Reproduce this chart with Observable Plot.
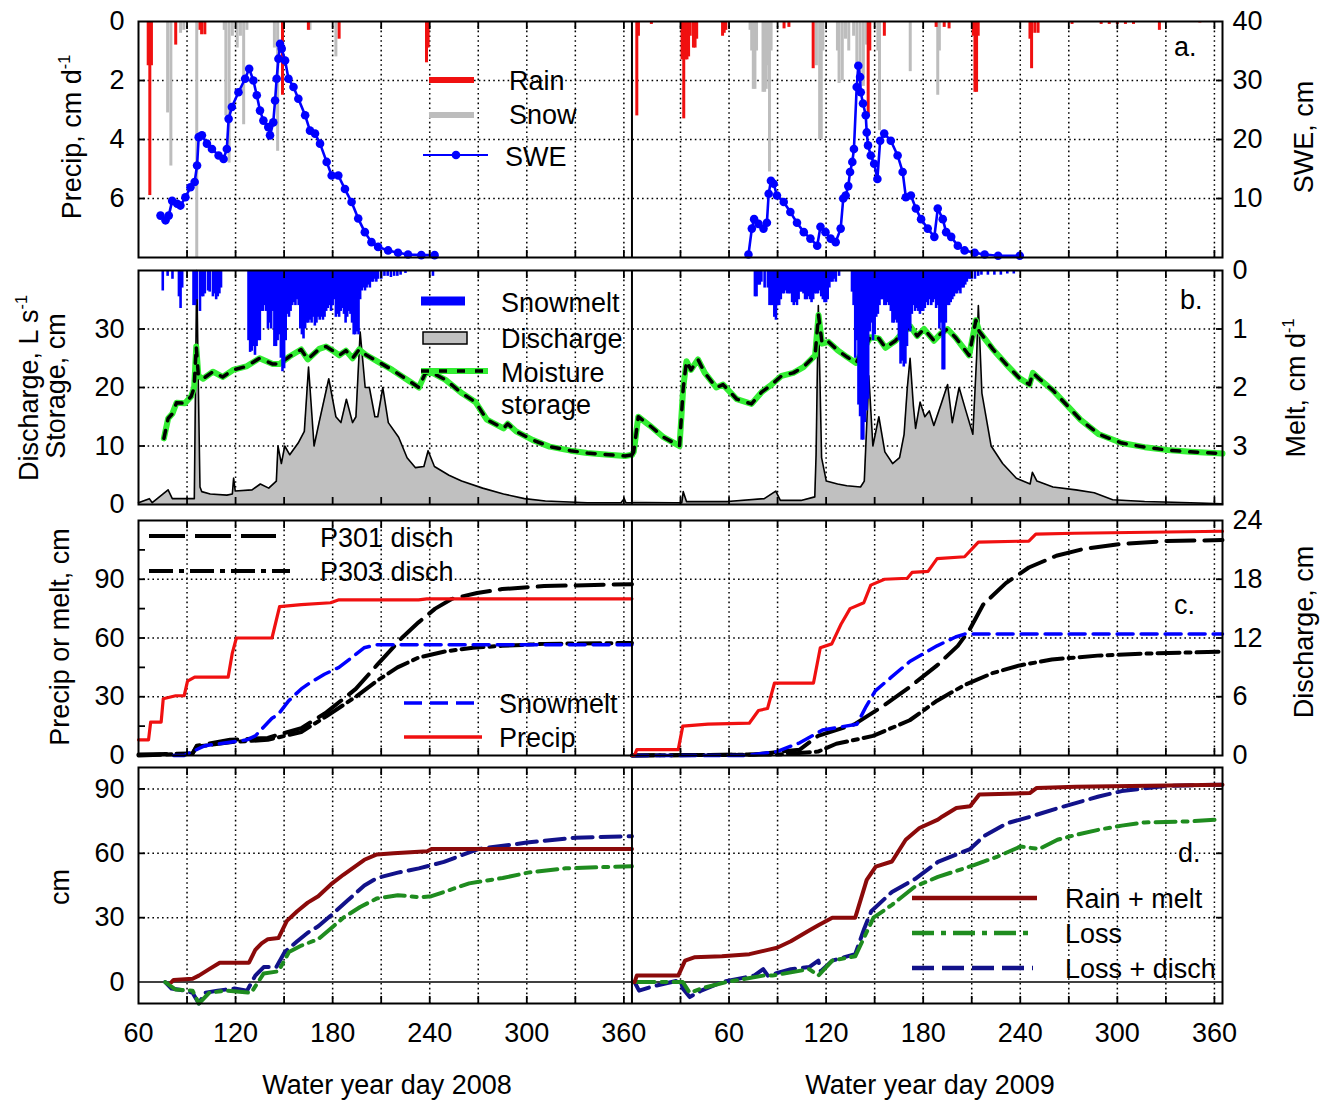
<!DOCTYPE html>
<html>
<head>
<meta charset="utf-8">
<script src="https://cdn.jsdelivr.net/npm/d3@7"></script>
<script src="https://cdn.jsdelivr.net/npm/@observablehq/plot@0.6"></script>
<style>
  html, body { margin: 0; padding: 0; background: #fff; }
  #fig { position: relative; width: 1335px; height: 1101px; background: #fff; }
  #fig > svg { position: absolute; left: 0; overflow: visible; }
</style>
</head>
<body>
<div id="fig"></div>
<script>
// ---------------- DATA: [water-year day, value] ----------------
// Panel a: daily precipitation, cm/d
const rain2008 = [[66,1.5],[67,5.9],[68,1.5],[83,0.8],[98,0.3],[99,0.45],[101,0.45],[149,2.5],[165,0.3],[184,0.6],[238,1.4],[239,0.9]];
const snow2008 = [[78,3.1],[80,4.9],[86,0.4],[88,0.3],[96,8.0],[113,0.3],[114,3.2],[116,4.8],[118,0.5],[121,0.9],[123,0.5],[125,3.5],[127,0.3],[144,0.9],[146,4.4],[166,0.3],[182,1.2]];
const rain2009 = [[3,3.2],[4,0.5],[12,0.1],[31,1.3],[32,3.3],[33,1.3],[34,1.3],[35,1.2],[36,0.5],[38,0.9],[39,0.9],[40,0.6],[56,0.5],[57,0.4],[58,0.3],[94,0.25],[97,0.2],[112,1.6],[146,3.2],[147,1.0],[156,0.5],[188,0.2],[193,0.2],[196,0.25],[211,0.5],[212,2.4],[213,2.4],[214,0.5],[246,0.6],[247,1.6],[249,0.4],[251,0.4],[272,0.1],[290,0.1],[295,0.1],[300,0.1],[305,0.1],[310,0.1],[326,0.3],[351,0.05]];
const snow2009 = [[73,0.3],[74,1.0],[75,2.3],[76,2.3],[77,1.0],[81,2.4],[82,2.4],[83,2.3],[84,1.5],[85,5.1],[86,1.0],[114,1.5],[116,4.0],[117,4.0],[118,1.0],[127,1.0],[128,2.1],[130,2.0],[132,0.6],[134,1.0],[137,0.5],[139,1.5],[141,2.1],[143,2.2],[145,0.8],[152,1.0],[153,3.7],[172,1.7],[189,2.5],[190,1.0]];
// Panel a: SWE, cm
const swe2008 = [[73.6,7.1],[76.7,6.3],[78.7,7.1],[80.8,9.6],[83.9,9.1],[85.9,8.8],[89,10.2],[92.1,11.9],[94.7,12.8],[96.2,15.6],[97.2,20.4],[99.2,20.7],[102.3,19.3],[105.4,18.4],[109.5,17.3],[112.6,16.7],[114.6,18.4],[115.7,23.5],[117.7,25.5],[121.8,28],[125.9,30.3],[128.4,32],[131,30],[133.1,27.5],[135.1,24.9],[137.2,23.2],[140.2,22.1],[141.3,20.7],[143.3,22.9],[144.4,26.6],[145.4,30.3],[146.5,33.7],[147.5,36.2],[148.5,35.4],[150.6,33.4],[152.7,30.3],[155.8,28.9],[158.8,26.9],[163,24.1],[166,21.5],[169.1,21],[172.2,19.3],[176.3,16.2],[179.4,13.9],[183.5,13.9],[187.6,11.6],[191.7,9.4],[195.8,6.6],[199.9,4.3],[204,2.6],[208.1,1.8],[214.3,1.2],[220.4,0.8],[226.6,0.5],[234.8,0.4],[243,0.4]];
const swe2009 = [[72,0.5],[74.1,4.9],[75.5,6.5],[78.2,5.7],[81.3,4.9],[83.4,5.9],[84.5,10.8],[85.9,13],[87.6,12.5],[89.6,10.5],[93.8,9.4],[97.9,7.7],[102,5.9],[106.2,4.3],[110.3,3.2],[114.5,2],[116.5,5.2],[119.6,4.3],[122.8,3.2],[125.9,2.6],[129,4.9],[130.6,10],[132.1,10.5],[133.7,12.1],[134.8,14.5],[136.2,16.2],[137.2,18.4],[138.9,28.9],[139.9,32.5],[141,30.6],[141.4,28],[142.8,26.1],[144.5,24.1],[145.1,21.2],[145.9,19],[147.6,17.3],[149.7,15.9],[151.7,13.3],[153.4,19.8],[155.9,21],[160,19.8],[164.2,17.3],[167.3,14.5],[169.3,10.2],[172.4,10.5],[175.5,8.3],[178.7,6.5],[182.8,4.9],[186.9,3.5],[189,8.3],[192.1,6.5],[194.2,4.3],[197.3,3.5],[201.4,2],[205.6,1.2],[211.8,0.8],[218,0.5],[226.3,0.3],[239.7,0.3]];

// Panel b: discharge, L/s
const dis2008 = [[60,0.3],[66.7,1],[68.5,0.3],[78.3,2.5],[80.9,1],[90,1],[94.5,1],[96,40],[97,20],[98,3],[99.1,2.2],[104.3,1.8],[114.6,1.6],[118,1.8],[118.8,4.5],[119.8,2.3],[130.2,2.5],[135.3,3.5],[140.5,2.8],[145.2,4],[146.2,10],[148.3,7],[150.4,10],[153.5,8.5],[158.7,10.5],[162.5,12.5],[165.1,23.5],[168.5,10],[171.6,14],[177.6,21.5],[182,15],[185.1,14],[188.5,18],[192.3,14],[194.4,15],[197,29.5],[200.1,20],[202.7,20],[206.1,15],[207.9,15],[211,20],[214.4,14],[220.8,11.5],[226,8],[231.2,6.3],[236.4,6.5],[239,9.2],[242.9,6.5],[251.9,5],[259.7,4],[272.7,2.8],[285.6,1.8],[298.6,1],[311.5,0.6],[337.4,0.3],[358.2,0.3],[360.2,1],[361.3,0.3],[365,0.3]];
const dis2009 = [[0,0.3],[30.8,0.3],[31.7,2.2],[33.7,0.5],[59.2,0.5],[81.8,1],[88.9,2.3],[91.7,0.7],[104.5,0.7],[113,1.3],[113.8,8.5],[115.2,34],[117.2,8],[120.1,4],[127.1,3.5],[132.8,3.2],[141.3,3],[143.6,4],[146.4,22],[148.9,10],[152.6,15],[156.3,9],[161.1,7],[165.4,8],[168.2,12],[170.2,20],[171.9,25],[173.9,17],[175.3,13],[178.1,17.5],[181,15],[183.8,16],[186.6,13.5],[190.9,17],[195.1,20.5],[198,14],[202.2,20],[206.4,16],[210.7,12],[213,25],[214.1,34],[216.3,19],[222,10],[229.1,7],[237.6,4.5],[246.1,3.5],[247.5,5.5],[250.3,4],[260.2,3],[274.4,2.5],[285.7,2],[297.1,0.8],[316.9,0.5],[345.2,0.3],[365,0.1]];
// Panel b: moisture storage, cm
const sto2008 = [[75.7,11.3],[78.3,14.7],[80.9,15.5],[83.5,17.4],[88.7,17.3],[92.6,18.5],[94.4,20],[95.7,27],[97,22],[99.9,21.5],[106,22.7],[112,21.8],[118.4,23],[126.6,23.6],[134.8,25],[143,24],[147.1,24],[153.3,25.3],[160.5,26.5],[164.6,24.8],[171.7,26.6],[175.9,27],[180,26.3],[184.1,25.5],[188.2,26.3],[192.3,25],[196.4,26.5],[200.5,25.6],[208.7,24.3],[216.9,23],[225.1,21.5],[233.3,20],[237.4,22.5],[241.6,22.5],[249.8,21.3],[260,19],[268.3,17.5],[275.3,14.5],[285.6,13],[288.2,13.8],[293.4,12.5],[303.8,11],[314.1,9.9],[327.1,9.2],[337.4,8.8],[350.4,8.5],[360.8,8.3],[365,8.5]];
const sto2009 = [[0,8.5],[1.1,9],[3.9,15],[11,13.5],[19.5,11.5],[29.4,10],[31.7,20],[33.7,24.5],[36.5,23],[40.8,24.8],[45,22.5],[52.1,20],[56.3,20.5],[64.8,18],[73.9,17.2],[80.1,19.2],[86.3,20.5],[92.5,22],[99.7,22.5],[106,23.5],[113.2,25.5],[115.3,32.4],[117.5,27.5],[121.5,27.8],[127,26.4],[133,25.2],[138.5,24.2],[147.3,28.6],[152.5,28.4],[156.7,26.8],[162.9,28],[167,29.3],[172.2,30.4],[176.3,28.8],[180.5,30],[186.7,28],[190.8,29.2],[195,30],[200.1,28.5],[208.4,25.5],[212.6,31.5],[214.6,29.6],[222.9,26.6],[231.2,24],[239.5,21.6],[245.7,20.5],[247.8,22.5],[251.7,21.5],[260.2,19.5],[268.7,17],[277.2,14.5],[288.6,12],[302.7,10.5],[316.9,9.8],[331,9.3],[345.2,9],[365,8.7]];
// Panel b: daily snowmelt, cm/d
const melt2008 = [[75,0.35],[78,0.1],[81,0.15],[85,0.45],[86,0.65],[87,0.3],[94,0.6],[95,0.6],[96,0.5],[98,0.7],[99,0.45],[100,0.45],[101,0.4],[103,0.35],[104,0.37],[106,0.45],[107,0.4],[108,0.5],[109,0.45],[110,0.4],[111,0.3],[128,1.2],[129,1.4],[130,1.38],[131,1.3],[132,1.45],[133,1.3],[134,1.2],[135,1.2],[136,0.7],[137,0.7],[138,0.6],[139,0.7],[140,1.0],[141,0.9],[142,1.0],[143,0.7],[144,1.3],[145,1.3],[146,1.2],[147,1.1],[148,1.5],[149,1.73],[150,1.68],[151,1.2],[152,0.75],[153,0.8],[154,0.7],[155,0.6],[156,0.55],[157,0.6],[158,0.5],[159,0.6],[160,1.0],[161,1.1],[162,1.17],[163,1.0],[164,0.9],[165,0.9],[166,0.85],[167,0.9],[168,0.8],[169,0.95],[170,0.9],[171,0.8],[172,0.85],[173,0.8],[174,0.85],[175,0.8],[176,0.7],[177,0.65],[178,0.6],[179,0.7],[180,0.6],[181,0.5],[182,0.8],[183,0.75],[184,0.8],[185,0.7],[186,0.65],[187,0.75],[188,0.9],[189,0.8],[190,0.7],[191,0.75],[192,0.9],[193,1.1],[194,1.1],[195,1.05],[196,1.1],[197,0.5],[198,0.35],[199,0.3],[200,0.35],[201,0.3],[202,0.25],[203,0.3],[204,0.2],[205,0.2],[206,0.15],[207,0.2],[208,0.15],[210,0.15],[212,0.1],[214,0.1],[216,0.12],[218,0.1],[220,0.1],[222,0.08],[225,0.05],[242,0.1]];
const melt2009 = [[76,0.45],[77,0.45],[78,0.25],[79,0.25],[80,0.2],[82,0.3],[84,0.3],[85,0.6],[86,0.6],[87,0.6],[88,0.8],[89,0.85],[90,0.6],[91,0.6],[92,0.5],[93,0.4],[94,0.4],[95,0.35],[96,0.4],[97,0.4],[98,0.4],[99,0.55],[100,0.6],[101,0.55],[102,0.6],[103,0.5],[104,0.37],[105,0.37],[106,0.4],[107,0.5],[108,0.5],[109,0.45],[110,0.5],[111,0.55],[112,0.5],[113,0.4],[114,0.4],[115,0.4],[116,0.35],[117,0.45],[118,0.5],[119,0.55],[120,0.55],[121,0.5],[122,0.3],[123,0.2],[124,0.2],[125,0.15],[126,0.2],[128,0.1],[136,0.37],[137,0.6],[138,1.5],[139,1.2],[140,2.3],[141,2.5],[142,2.9],[143,2.9],[144,2.6],[145,2.4],[146,2.2],[147,1.05],[148,0.9],[149,1.2],[150,1.1],[151,0.8],[152,0.75],[153,0.6],[154,0.5],[155,0.5],[156,0.6],[157,0.6],[158,0.55],[159,0.6],[160,0.7],[161,0.9],[162,0.9],[163,0.85],[164,0.9],[165,1.2],[166,1.6],[167,1.55],[168,1.65],[169,1.6],[170,1.3],[171,1.0],[172,1.05],[173,0.75],[174,0.6],[175,0.7],[176,0.65],[177,0.7],[178,0.75],[179,0.7],[180,0.7],[181,0.65],[182,0.55],[183,0.6],[184,0.5],[185,0.6],[186,0.55],[187,0.5],[188,0.65],[189,0.6],[190,1.0],[191,0.9],[192,1.7],[193,1.7],[194,0.9],[195,0.6],[196,0.6],[197,0.55],[198,0.5],[199,0.45],[200,0.4],[201,0.4],[202,0.35],[203,0.4],[204,0.3],[205,0.3],[206,0.25],[207,0.2],[208,0.15],[209,0.15],[210,0.15],[212,0.15],[214,0.1],[216,0.08],[220,0.08],[224,0.08],[228,0.08],[232,0.06],[236,0.06]];

// Panel c: cumulative precip / snowmelt (cm), cumulative discharge (cm, right axis)
const cumPrecip2008 = [[60,8],[66.2,8],[67.5,17],[74,17],[75.3,29],[83,30.5],[88.2,30.5],[90.3,38],[94.7,40],[115.4,40],[117.9,52],[120.5,60],[142.5,60],[147.2,76],[160.6,77],[178.7,78],[183.9,79.5],[233.1,79.5],[238.2,80],[365,80]];
const cumMelt2008 = [[81.7,0],[88.2,0],[101.1,5],[127,8],[132.2,10],[142.5,19],[146.4,21],[152.9,28],[160.6,34],[165.8,37],[174.9,41.5],[183.9,45],[191.7,50],[199.4,55],[207.2,56.5],[365,56.5]];
const p301_2008 = [[60,0.1],[93.4,0.2],[96,1.0],[116.6,1.6],[139.9,1.8],[160.6,2.8],[176.1,4.4],[194.3,6.8],[207.2,9.2],[222.7,12.0],[233.1,13.6],[243.4,15.0],[253.8,16.0],[269.3,16.6],[284.8,17.0],[310.7,17.3],[365,17.5]];
const p303_2008 = [[60,0],[93.4,0.2],[96,0.9],[119.2,1.4],[139.9,1.6],[160.6,2.4],[176.1,4.0],[194.3,6.0],[207.2,7.6],[220.1,9.0],[233.1,10.0],[248.6,10.6],[266.7,11.0],[284.8,11.2],[310.7,11.4],[365,11.5]];
const cumPrecip2009 = [[0,0],[1.5,0],[3,3],[28.6,3],[31.4,15],[47,16],[72.5,16.5],[78.2,23],[83.8,24],[88.1,37],[112.2,37],[116.4,55],[123.5,57],[129.2,67],[134.8,75],[143.3,78],[147.6,87],[156.1,90],[170.2,90.5],[173.1,93.5],[183,94],[188.6,100.5],[205.6,101.5],[214.1,109],[245.3,109.5],[249.6,113],[273.6,113.5],[365,114.5]];
const cumMelt2009 = [[0,0],[69.7,0],[89.5,2],[103.7,6.5],[117.8,13],[139.1,16],[144.7,25],[150.4,33],[160.3,40],[171.7,48],[188.6,56],[200,60.5],[205.6,62],[365,62]];
const p301_2009 = [[0,0],[75.3,0.1],[103.7,0.6],[115,2.0],[137.7,3.2],[154.7,5.0],[171.7,7.0],[188.6,9.2],[201.4,11.2],[208.5,12.8],[217,15.4],[231.1,17.6],[245.3,19.2],[262.3,20.4],[279.3,21.1],[301.9,21.6],[330.3,21.9],[365,22.0]];
const p303_2009 = [[0,0],[89.5,0.1],[115,0.4],[126.3,1.2],[149,2.0],[171.7,3.6],[188.6,5.6],[205.6,7.2],[222.6,8.4],[239.6,9.2],[259.5,9.8],[287.8,10.2],[316.1,10.4],[365,10.6]];

// Panel d: cumulative water balance, cm
const rainMelt2008 = [[80.4,0],[81.7,1],[93.4,1.5],[97.3,3],[103.7,6],[110.2,9],[128.3,9],[132.2,15],[136.1,18],[140,20],[146.5,20.5],[151.7,28.5],[158.1,33],[164.6,37],[171.1,40],[178.9,45.5],[186.6,50],[193.1,53.5],[199.6,57],[207.4,59.5],[217.7,60],[238.5,61],[241.1,62],[365,62]];
const lossDisch2008 = [[76.5,0],[80.4,-3],[88.2,-4],[93.4,-5],[97.3,-10],[101.1,-5],[108.9,-4],[119.3,-3],[127.1,-4],[132.2,3],[137.4,7],[145.2,7],[150.4,14],[158.1,19],[164.6,23],[171.1,26],[178.9,31],[189.2,38],[199.6,45],[207.4,48.5],[220.3,51],[233.3,53],[248.8,56],[270,62],[300,65],[330,67.3],[365,68]];
const loss2008 = [[76.5,0],[83,-3.5],[93.4,-4],[97.3,-10],[103.7,-5],[114.1,-4],[129.6,-5],[137.4,4],[146.5,5],[153,14],[160.7,17],[171.1,20],[178.9,25],[186.6,30],[197,35],[207.4,39],[220.3,40.5],[233.3,39.5],[241.1,40],[248.8,42],[264.4,46],[285.1,48.5],[300.7,51],[324,53],[365,54]];
const rainMelt2009 = [[1.6,0],[3,3],[28.6,3],[32.8,10],[38.5,11.5],[55.6,12],[72.6,13],[84,15],[89.7,16],[98.2,19],[109.5,24],[115.2,26.5],[123.8,30],[138,30],[145.1,47.6],[150.7,53.8],[160.7,56.2],[169.2,66.3],[177.7,71.8],[189.1,75.7],[191.9,77.2],[200.5,81.1],[209,81.9],[214.7,87.4],[245.9,88.1],[250.2,90.5],[274.3,91],[365,92]];
const lossDisch2009 = [[1.6,0],[4.4,-4],[13,-2],[30,1],[31.4,-3],[35.7,-7],[42.8,-4],[55.6,0],[75.5,3],[81.1,6],[84,3],[98.2,6],[109.5,7],[115.2,10],[116.7,5],[123.8,10],[138,13],[143.6,25],[147.9,33],[160.7,42],[174.9,48],[189.1,56],[209,62],[217.5,68],[231.7,74],[245.9,77],[263,81],[288.5,86.5],[302.7,89],[331.1,91.5],[365,92]];
const loss2009 = [[1.6,0],[31.4,0],[35.7,-5],[42.8,-3],[58.4,0],[81.1,3],[86.8,3],[109.5,6],[115.2,3],[123.8,10],[138,12],[149.3,30],[160.7,36],[174.9,44.5],[189.1,49],[211.8,54.6],[226,58.5],[240.2,63.2],[251.6,62],[263,66.3],[274.3,68.6],[288.5,71],[302.7,72.9],[316.9,74.4],[345.3,74.9],[362.4,75.7]];

// Axis ticks (water-year day; 2009 days are placed after 2008 on one time line)
const dayTicks = [60, 120, 180, 240, 300, 360];
const gridDays = [90, 120, 150, 180, 210, 240, 270, 300, 330, 360];
const gridDays2009 = [30, 60, 90, 120, 150, 180, 210, 240, 270, 300, 330, 360];

// ---------------- HELPERS ----------------
const FONT = "'Liberation Sans', Arial, Helvetica, sans-serif";
const FS = 27;
const YEAR_OFFSET = {2008: 0, 2009: 365};
const toRows = (pairs, yr) => pairs.map(([d, v]) => ({t: d + YEAR_OFFSET[yr], v, yr}));
const both = (a, b) => toRows(a, 2008).concat(toRows(b, 2009));
const xTicks = dayTicks.concat(dayTicks.map(d => d + 365));
const xGrid = gridDays.concat(gridDays2009.map(d => d + 365));
const fmtDay = t => String(t <= 365 ? t : t - 365);
const gridStyle = {stroke: "#000", strokeOpacity: 1, strokeWidth: 1.5, strokeDasharray: "1.6,3.2"};
const fig = document.getElementById("fig");

function panel(cfg) {
  const marks = [
    Plot.gridX(xGrid, gridStyle),
    Plot.gridY(cfg.yGrid, gridStyle),
    ...cfg.marks,
    Plot.ruleX([365], {stroke: "#000", strokeWidth: 2}),
    Plot.axisX(xGrid, {anchor: "bottom", tickSize: -7, tickFormat: () => "", strokeWidth: 1.8, label: null}),
    Plot.axisX(xGrid, {anchor: "top", tickSize: -7, tickFormat: () => "", strokeWidth: 1.8, label: null}),
    Plot.axisY(cfg.leftTicks, {anchor: "left", tickSize: -7, tickFormat: () => "", strokeWidth: 1.8, label: null}),
    Plot.axisY(cfg.rightTicks, {anchor: "right", tickSize: -7, tickFormat: () => "", strokeWidth: 1.8, label: null}),
    Plot.axisY(cfg.leftLabels, {anchor: "left", tickSize: 0, tickPadding: 14, tickFormat: cfg.leftFmt || (d => String(d)), fontSize: FS, label: null, color: "#000"}),
    cfg.rightLabels ? Plot.axisY(cfg.rightLabels, {anchor: "right", tickSize: 0, tickPadding: 10, tickFormat: cfg.rightFmt, fontSize: FS, label: null, color: "#000"}) : null,
    cfg.xLabels ? Plot.axisX(xTicks, {anchor: "bottom", tickSize: 0, tickPadding: 19, tickFormat: fmtDay, fontSize: FS, label: null, color: "#000"}) : null,
    Plot.frame({stroke: "#000", strokeWidth: 2})
  ];
  const svg = Plot.plot({
    width: 1335, height: cfg.height,
    marginLeft: 138, marginRight: 113, marginTop: cfg.marginTop, marginBottom: cfg.marginBottom,
    style: {fontFamily: FONT, fontSize: FS + "px", color: "#000", background: "none", overflow: "visible"},
    x: {domain: [60, 730], label: null},
    y: Object.assign({label: null}, cfg.y),
    marks
  });
  svg.style.top = cfg.top + "px";
  fig.appendChild(svg);
  svg.__top = cfg.top;
  return svg;
}

function addText(svg, x, y, str, opts = {}) {
  d3.select(svg).append("text")
    .attr("x", x).attr("y", y - svg.__top).attr("dy", "0.36em")
    .attr("font-family", FONT).attr("font-size", opts.size || FS).attr("fill", "#000")
    .attr("text-anchor", opts.anchor || "start").text(str);
}
function addVTitle(svg, x, yc, parts) {
  const t = d3.select(svg).append("text")
    .attr("transform", `translate(${x},${yc - svg.__top}) rotate(-90)`)
    .attr("text-anchor", "middle").attr("font-family", FONT).attr("font-size", FS).attr("fill", "#000");
  parts.forEach(([s, sup]) => {
    const ts = t.append("tspan").text(s);
    if (sup) ts.attr("font-size", FS * 0.6).attr("dy", -FS * 0.42);
  });
}
function addLine(svg, x1, x2, y, stroke, width, dash) {
  const l = d3.select(svg).append("line")
    .attr("x1", x1).attr("x2", x2).attr("y1", y - svg.__top).attr("y2", y - svg.__top)
    .attr("stroke", stroke).attr("stroke-width", width);
  if (dash) l.attr("stroke-dasharray", dash);
}

// ---------------- PANEL A ----------------
const swe = both(swe2008, swe2009);
const sweY = d => 8 - d.v / 5;
const svgA = panel({
  top: 0, height: 262, marginTop: 21, marginBottom: 5,
  y: {domain: [0, 8], reverse: true},
  yGrid: [2, 4, 6],
  leftTicks: [2, 4, 6], rightTicks: [2, 4, 6],
  leftLabels: [0, 2, 4, 6],
  rightLabels: [0, 2, 4, 6], rightFmt: d => String(40 - 5 * d),
  marks: [
    Plot.ruleX(both(snow2008, snow2009), {x: "t", y1: 0, y2: "v", stroke: "#bdbdbd", strokeWidth: 3}),
    Plot.ruleX(both(rain2008, rain2009), {x: "t", y1: 0, y2: "v", stroke: "#f01010", strokeWidth: 3}),
    Plot.line(swe, {x: "t", y: sweY, z: "yr", stroke: "#0000ff", strokeWidth: 2.6}),
    Plot.dot(swe, {x: "t", y: sweY, r: 4.3, fill: "#0000ff", stroke: "none"})
  ]
});
addVTitle(svgA, 81, 137, [["Precip, cm d"], ["-1", true]]);
addVTitle(svgA, 1313, 137, [["SWE, cm"]]);
addLine(svgA, 429, 474, 80, "#f01010", 6);
addLine(svgA, 429, 474, 115, "#bdbdbd", 6);
addLine(svgA, 423, 488, 155, "#0000ff", 2);
d3.select(svgA).append("circle").attr("cx", 456).attr("cy", 155).attr("r", 4.3).attr("fill", "#0000ff");
addText(svgA, 509, 80, "Rain");
addText(svgA, 509, 114, "Snow");
addText(svgA, 505, 156, "SWE");
addText(svgA, 1174, 46, "a.");

// ---------------- PANEL B ----------------
const dis = both(dis2008, dis2009);
const sto = both(sto2008, sto2009);
const svgB = panel({
  top: 262, height: 250, marginTop: 8, marginBottom: 8,
  y: {domain: [0, 40]},
  yGrid: [10, 20, 30],
  leftTicks: [10, 20, 30], rightTicks: [10, 20, 30],
  leftLabels: [0, 10, 20, 30],
  rightLabels: [40, 30, 20, 10], rightFmt: d => String((40 - d) / 10),
  marks: [
    Plot.areaY(dis, {x: "t", y: "v", z: "yr", fill: "#c0c0c0"}),
    Plot.line(dis, {x: "t", y: "v", z: "yr", stroke: "#000", strokeWidth: 1.6}),
    Plot.line(sto, {x: "t", y: "v", z: "yr", stroke: "#33ee33", strokeWidth: 6}),
    Plot.line(sto, {x: "t", y: "v", z: "yr", stroke: "#000", strokeWidth: 3.5, strokeDasharray: "8,10"}),
    Plot.ruleX(both(melt2008, melt2009), {x: "t", y1: 40, y2: d => 40 - 10 * d.v, stroke: "#0000ff", strokeWidth: 2.6})
  ]
});
addVTitle(svgB, 38, 388, [["Discharge, L s"], ["-1", true]]);
addVTitle(svgB, 65, 386, [["Storage, cm"]]);
addVTitle(svgB, 1305, 388, [["Melt, cm d"], ["-1", true]]);
addLine(svgB, 421, 465, 301, "#0000ff", 9);
d3.select(svgB).append("rect").attr("x", 423).attr("y", 332 - svgB.__top).attr("width", 44).attr("height", 12)
  .attr("fill", "#c0c0c0").attr("stroke", "#000").attr("stroke-width", 1.5);
addLine(svgB, 421, 488, 371, "#33ee33", 6);
addLine(svgB, 421, 488, 371, "#000", 3.5, "8,10");
addText(svgB, 501, 302, "Snowmelt");
addText(svgB, 501, 338, "Discharge");
addText(svgB, 501, 372, "Moisture");
addText(svgB, 501, 404, "storage");
addText(svgB, 1180, 299, "b.");

// ---------------- PANEL C ----------------
const svgC = panel({
  top: 512, height: 250, marginTop: 8, marginBottom: 7,
  y: {domain: [0, 120]},
  yGrid: [30, 60, 90],
  leftTicks: [15, 30, 45, 60, 75, 90, 105], rightTicks: [30, 60, 90],
  leftLabels: [0, 30, 60, 90],
  rightLabels: [0, 30, 60, 90, 120], rightFmt: d => String(d / 5),
  marks: [
    Plot.line(both(p301_2008, p301_2009), {x: "t", y: d => d.v * 5, z: "yr", stroke: "#000", strokeWidth: 4, strokeDasharray: "28,10"}),
    Plot.line(both(p303_2008, p303_2009), {x: "t", y: d => d.v * 5, z: "yr", stroke: "#000", strokeWidth: 4, strokeDasharray: "22,6,5,6"}),
    Plot.line(both(cumMelt2008, cumMelt2009), {x: "t", y: "v", z: "yr", stroke: "#0000ff", strokeWidth: 3.5, strokeDasharray: "16,8"}),
    Plot.line(both(cumPrecip2008, cumPrecip2009), {x: "t", y: "v", z: "yr", stroke: "#f01010", strokeWidth: 3.2})
  ]
});
addVTitle(svgC, 69, 637, [["Precip or melt, cm"]]);
addVTitle(svgC, 1313, 632, [["Discharge, cm"]]);
addLine(svgC, 149, 276, 536, "#000", 4, "36,10");
addLine(svgC, 149, 290, 571, "#000", 4, "24,6,5,6");
addLine(svgC, 404, 482, 703, "#0000ff", 3.5, "18,8");
addLine(svgC, 404, 482, 737, "#f01010", 3.5);
addText(svgC, 320, 537, "P301 disch");
addText(svgC, 320, 571, "P303 disch");
addText(svgC, 499, 703, "Snowmelt");
addText(svgC, 499, 737, "Precip");
addText(svgC, 1174, 604, "c.");

// ---------------- PANEL D ----------------
const svgD = panel({
  top: 762, height: 339, marginTop: 5, marginBottom: 98,
  y: {domain: [-10, 100]},
  yGrid: [30, 60, 90],
  leftTicks: [30, 60, 90], rightTicks: [30, 60, 90],
  leftLabels: [0, 30, 60, 90],
  xLabels: true,
  marks: [
    Plot.ruleY([0], {stroke: "#000", strokeWidth: 1.5}),
    Plot.line(both(lossDisch2008, lossDisch2009), {x: "t", y: "v", z: "yr", stroke: "#12128a", strokeWidth: 4, strokeDasharray: "20,8"}),
    Plot.line(both(loss2008, loss2009), {x: "t", y: "v", z: "yr", stroke: "#1f8c1f", strokeWidth: 4, strokeDasharray: "20,7,5,7"}),
    Plot.line(both(rainMelt2008, rainMelt2009), {x: "t", y: "v", z: "yr", stroke: "#8b0a0a", strokeWidth: 4})
  ]
});
addVTitle(svgD, 69, 887, [["cm"]]);
addLine(svgD, 912, 1037, 898, "#8b0a0a", 4.5);
addLine(svgD, 912, 1028, 933, "#1f8c1f", 4.5, "22,7,5,7");
addLine(svgD, 912, 1033, 968, "#12128a", 4.5, "22,8");
addText(svgD, 1065, 898, "Rain + melt");
addText(svgD, 1065, 933, "Loss");
addText(svgD, 1065, 968, "Loss + disch");
addText(svgD, 1178, 852, "d.");
addText(svgD, 387, 1084, "Water year day 2008", {anchor: "middle"});
addText(svgD, 930, 1084, "Water year day 2009", {anchor: "middle"});
</script>
</body>
</html>
